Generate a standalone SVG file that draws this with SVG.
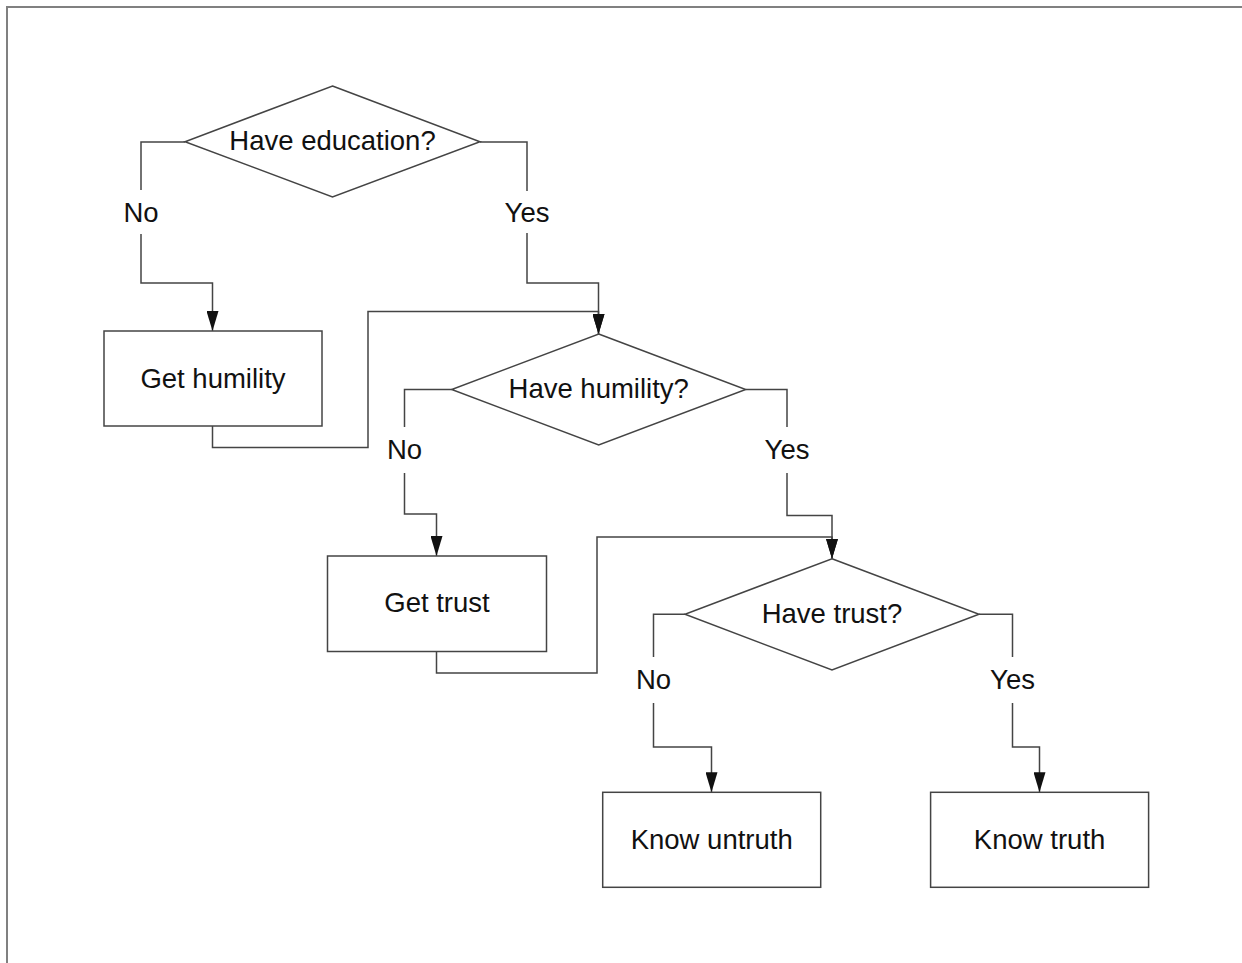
<svg xmlns="http://www.w3.org/2000/svg" width="1242" height="963" viewBox="0 0 1242 963">
<style>
  .shape { fill: #ffffff; stroke: #444444; stroke-width: 1.5; }
  .conn { fill: none; stroke: #444444; stroke-width: 1.5; }
  .t { font-family: "Liberation Sans", Arial, sans-serif; font-size: 27.5px; fill: #111111; text-anchor: middle; }
</style>
<defs>
  <marker id="arrow" markerUnits="userSpaceOnUse" markerWidth="20" markerHeight="12" refX="20" refY="6" orient="auto" viewBox="0 0 20 12">
    <path d="M0,0 L20,6 L0,12 z" fill="#111111"/>
  </marker>
</defs>
<rect x="0" y="0" width="1242" height="963" fill="#ffffff"/>
<path d="M7,963 V7 H1242" fill="none" stroke="#808080" stroke-width="2"/>

<g id="connectors">
  <path class="conn" d="M185,142 H141 V190 M141,234 V283 H212.5 V331" marker-end="url(#arrow)"/>
  <path class="conn" d="M480,142 H527 V191 M527,233 V283 H598.5 V334" marker-end="url(#arrow)"/>
  <path class="conn" d="M212.5,426 V447.5 H368 V311.5 H598.5 V334" marker-end="url(#arrow)"/>
  <path class="conn" d="M451.7,389.5 H404.5 V427 M404.5,473 V514 H436.5 V556" marker-end="url(#arrow)"/>
  <path class="conn" d="M745.7,389.5 H787 V427 M787,473 V515.5 H832 V558.7" marker-end="url(#arrow)"/>
  <path class="conn" d="M436.5,651.5 V673 H597 V537 H832 V558.7" marker-end="url(#arrow)"/>
  <path class="conn" d="M685,614.3 H653.5 V657 M653.5,703 V747 H711.5 V792.3" marker-end="url(#arrow)"/>
  <path class="conn" d="M979,614.3 H1012.5 V657 M1012.5,703 V747 H1039.5 V792.3" marker-end="url(#arrow)"/>
</g>

<g id="labels">
  <text class="t" x="141" y="221.5">No</text>
  <text class="t" x="527" y="221.5">Yes</text>
  <text class="t" x="404.5" y="458.5">No</text>
  <text class="t" x="787" y="458.5">Yes</text>
  <text class="t" x="653.5" y="689">No</text>
  <text class="t" x="1012.5" y="689">Yes</text>
</g>

<g id="have-education">
  <polygon class="shape" points="332.5,86 480,141.7 332.5,197 185,141.7"/>
  <text class="t" x="332.5" y="149.5">Have education?</text>
</g>
<g id="get-humility">
  <rect class="shape" x="104" y="331" width="218" height="95"/>
  <text class="t" x="213" y="387.5">Get humility</text>
</g>
<g id="have-humility">
  <polygon class="shape" points="598.7,334 745.7,389.5 598.7,445 451.7,389.5"/>
  <text class="t" x="598.7" y="397.5">Have humility?</text>
</g>
<g id="get-trust">
  <rect class="shape" x="327.5" y="556" width="219" height="95.5"/>
  <text class="t" x="437" y="612">Get trust</text>
</g>
<g id="have-trust">
  <polygon class="shape" points="832,558.7 979,614.3 832,670 685,614.3"/>
  <text class="t" x="832" y="622.5">Have trust?</text>
</g>
<g id="know-untruth">
  <rect class="shape" x="602.7" y="792.3" width="218" height="95"/>
  <text class="t" x="711.7" y="849">Know untruth</text>
</g>
<g id="know-truth">
  <rect class="shape" x="930.6" y="792.3" width="218" height="95"/>
  <text class="t" x="1039.6" y="849">Know truth</text>
</g>
</svg>
